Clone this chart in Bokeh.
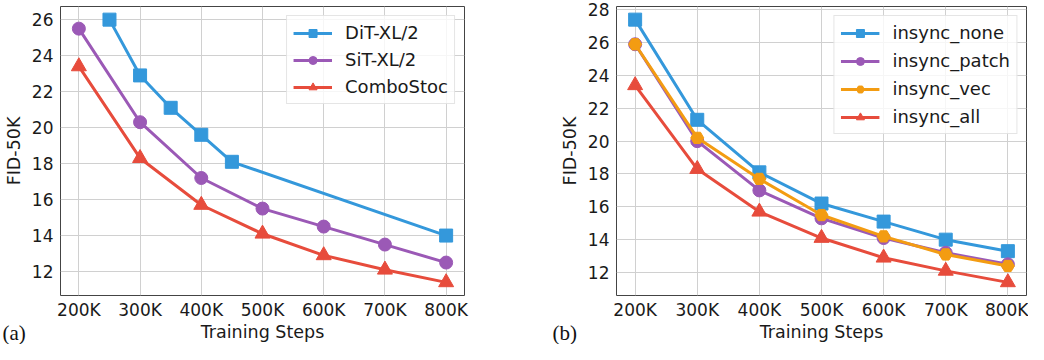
from bokeh.plotting import figure
from bokeh.layouts import row
from bokeh.models import Range1d, FixedTicker, Label
from bokeh.embed import file_html
from bokeh.resources import INLINE

# ---------------- data ----------------
steps = [200, 300, 400, 500, 600, 700, 800]
tick_labels = ["200K", "300K", "400K", "500K", "600K", "700K", "800K"]

dit_steps = [250, 300, 350, 400, 450, 800]
dit_fid = [26.0, 22.9, 21.1, 19.6, 18.1, 14.0]
sit_fid = [25.5, 20.3, 17.2, 15.5, 14.5, 13.5, 12.5]
combo_fid = [23.4, 18.3, 15.7, 14.1, 12.9, 12.1, 11.4]

none_fid = [27.4, 21.3, 18.1, 16.2, 15.1, 14.0, 13.3]
patch_fid = [25.9, 20.0, 17.0, 15.3, 14.1, 13.2, 12.5]
vec_fid = [25.9, 20.2, 17.7, 15.5, 14.2, 13.1, 12.4]
all_fid = [23.4, 18.3, 15.7, 14.1, 12.9, 12.1, 11.4]

left_yticks = [12, 14, 16, 18, 20, 22, 24, 26]
right_yticks = [12, 14, 16, 18, 20, 22, 24, 26, 28]

BLUE = "#3498db"
PURPLE = "#9b59b6"
ORANGE = "#f39c12"
RED = "#e74c3c"

FONT = "DejaVu Sans"
FIG_H = 344


def padded(vals, frac=0.05):
    lo, hi = min(vals), max(vals)
    span = hi - lo
    return lo - frac * span, hi + frac * span


def make_fig(width, border_left, border_right, yvals, yticks, xvals):
    x0, x1 = padded(xvals)
    y0, y1 = padded(yvals)
    p = figure(width=width, height=FIG_H, output_backend="svg", toolbar_location=None,
               x_range=Range1d(x0, x1), y_range=Range1d(y0, y1),
               min_border_left=border_left, min_border_right=border_right,
               min_border_top=6, min_border_bottom=0)
    p.outline_line_color = "#444444"
    p.outline_line_width = 1
    p.background_fill_color = "white"
    p.border_fill_color = "white"
    for g in (p.xgrid, p.ygrid):
        g.grid_line_color = "#d0d0d0"
        g.grid_line_width = 1
    p.xaxis.ticker = FixedTicker(ticks=steps)
    p.xaxis.major_label_overrides = {s: t for s, t in zip(steps, tick_labels)}
    p.yaxis.ticker = FixedTicker(ticks=yticks)
    p.xaxis.axis_label = "Training Steps"
    p.yaxis.axis_label = "FID-50K"
    for ax in (p.xaxis, p.yaxis):
        ax.axis_line_color = None
        ax.major_tick_line_color = None
        ax.minor_tick_line_color = None
        ax.major_tick_out = 0
        ax.major_tick_in = 0
        ax.major_label_text_font = FONT
        ax.major_label_text_font_size = "17px"
        ax.major_label_text_color = "#1a1a1a"
        ax.major_label_text_line_height = 1.0
        ax.axis_label_text_font = FONT
        ax.axis_label_text_font_size = "17.5px"
        ax.axis_label_text_font_style = "normal"
        ax.axis_label_text_color = "#1a1a1a"
        ax.axis_label_text_line_height = 1.0
    p.xaxis.major_label_standoff = 4
    p.xaxis.axis_label_standoff = -1
    p.yaxis.major_label_standoff = 7
    p.yaxis.axis_label_standoff = 5
    return p


def series(p, x, y, color, marker, size, label):
    p.line(x, y, line_color=color, line_width=3, legend_label=label)
    p.scatter(x, y, marker=marker, size=size, fill_color=color, line_color=color,
              legend_label=label)


def style_legend(p, spacing):
    lg = p.legend[0]
    lg.location = "top_right"
    lg.margin = 9
    lg.padding = 6
    lg.spacing = spacing
    lg.glyph_width = 39
    lg.glyph_height = 20
    lg.label_height = 20
    lg.label_standoff = 13
    lg.label_text_font = FONT
    lg.label_text_font_size = "18px"
    lg.label_text_color = "#1a1a1a"
    lg.border_line_color = "#cccccc"
    lg.border_line_width = 1
    lg.background_fill_alpha = 0.8


def panel_tag(p, text, cx, side, fx, fy):
    common = dict(text=text, text_font="Liberation Serif", text_font_size="21px",
                  text_baseline="middle", text_align="left", text_color="#111111")
    try:
        lab = Label(x=cx, y=FIG_H - 12, x_units="canvas", y_units="canvas", **common)
    except Exception:
        lab = Label(x=fx, y=fy, x_units="screen", y_units="screen", **common)
    p.add_layout(lab, side)


# ---------------- panel (a) ----------------
p1 = make_fig(500, 49, 36, dit_fid + sit_fid + combo_fid, left_yticks, steps)
series(p1, dit_steps, dit_fid, BLUE, "square", 13, "DiT-XL/2")
series(p1, steps, sit_fid, PURPLE, "circle", 13, "SiT-XL/2")
series(p1, steps, combo_fid, RED, "triangle", 15, "ComboStoc")
style_legend(p1, 6)
panel_tag(p1, "(a)", 2, "right", -462, -30)

# ---------------- panel (b) ----------------
p2 = make_fig(528, 116, 2, none_fid + patch_fid + vec_fid + all_fid, right_yticks, steps)
series(p2, steps, none_fid, BLUE, "square", 13, "insync_none")
series(p2, steps, patch_fid, PURPLE, "circle", 13, "insync_patch")
series(p2, steps, vec_fid, ORANGE, "hex", 13, "insync_vec")
series(p2, steps, all_fid, RED, "triangle", 15, "insync_all")
style_legend(p2, 7)
panel_tag(p2, "(b)", 52, "left", 0, -30)

layout = row(p1, p2, spacing=0)
open("out.html", "w").write(file_html(layout, INLINE))
